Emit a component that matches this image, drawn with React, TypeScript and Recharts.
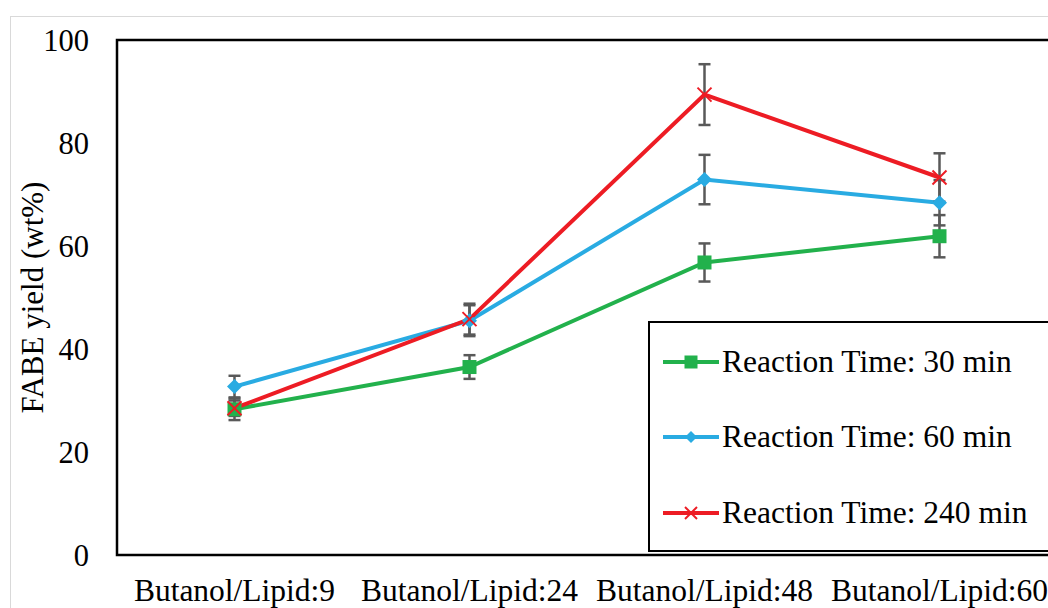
import React from "react";
import {
  LineChart,
  Line,
  XAxis,
  YAxis,
  ErrorBar,
  Legend,
  ReferenceArea,
} from "recharts";

const categories = [
  "Butanol/Lipid:9",
  "Butanol/Lipid:24",
  "Butanol/Lipid:48",
  "Butanol/Lipid:60",
];

const yield30 = [28.3, 36.5, 56.8, 61.9];
const yield60 = [32.7, 45.5, 72.9, 68.4];
const yield240 = [28.5, 45.8, 89.4, 73.3];

const err30 = [2.1, 2.3, 3.7, 4.1];
const err60 = [2.1, 3.0, 4.8, 4.4];
const err240 = [1.5, 3.0, 5.9, 4.7];

const yTicks = [0, 20, 40, 60, 80, 100];

const GREEN = "#22B14C";
const BLUE = "#29ABE2";
const RED = "#ED1C24";
const FONT = "Liberation Serif, Times New Roman, serif";

const data = categories.map((name, i) => ({
  name,
  t30: yield30[i],
  t60: yield60[i],
  t240: yield240[i],
  e30: err30[i],
  e60: err60[i],
  e240: err240[i],
}));

type DotProps = { cx?: number; cy?: number; index?: number };

function SquareMark({ cx = 0, cy = 0, size = 14 }: DotProps & { size?: number }) {
  return <rect x={cx - size / 2} y={cy - size / 2} width={size} height={size} fill={GREEN} />;
}

function DiamondMark({ cx = 0, cy = 0, size = 7.5 }: DotProps & { size?: number }) {
  const pts = `${cx},${cy - size} ${cx + size},${cy} ${cx},${cy + size} ${cx - size},${cy}`;
  return <polygon points={pts} fill={BLUE} />;
}

function CrossMark({ cx = 0, cy = 0, size = 7 }: DotProps & { size?: number }) {
  return (
    <g stroke={RED} strokeWidth={2}>
      <line x1={cx - size} y1={cy - size} x2={cx + size} y2={cy + size} />
      <line x1={cx - size} y1={cy + size} x2={cx + size} y2={cy - size} />
    </g>
  );
}

const legendItems = [
  { key: "t30", color: GREEN, Mark: SquareMark, markSize: 13 },
  { key: "t60", color: BLUE, Mark: DiamondMark, markSize: 6 },
  { key: "t240", color: RED, Mark: CrossMark, markSize: 6 },
];

function BoxLegend({ payload }: { payload?: any[] }) {
  const entries = payload ?? [];
  return (
    <div
      style={{
        boxSizing: "border-box",
        width: 420,
        height: 231,
        border: "2px solid #000",
        background: "#fff",
        paddingTop: 1,
        fontFamily: FONT,
      }}
    >
      {legendItems.map((item) => {
        const entry = entries.find((e) => e.dataKey === item.key);
        if (!entry) return null;
        const { Mark } = item;
        return (
          <div
            key={item.key}
            style={{ height: 75.5, display: "flex", alignItems: "center" }}
          >
            <svg width={56} height={20} style={{ marginLeft: 13 }}>
              <line x1={0} y1={10} x2={56} y2={10} stroke={item.color} strokeWidth={4} />
              <Mark cx={28} cy={10} size={item.markSize} />
            </svg>
            <span style={{ marginLeft: 3, fontSize: 31.5, color: "#000", whiteSpace: "nowrap" }}>
              {entry.value}
            </span>
          </div>
        );
      })}
    </div>
  );
}

function YTitle({ viewBox }: any) {
  const cy = viewBox.y + viewBox.height / 2;
  const x = viewBox.x + 6;
  return (
    <text
      x={x}
      y={cy}
      transform={`rotate(-90, ${x}, ${cy})`}
      textAnchor="middle"
      fontFamily={FONT}
      fontSize={31}
      fill="#000"
    >
      FABE yield (wt%)
    </text>
  );
}

function XTick({ x, y, payload }: any) {
  return (
    <text x={x} y={y} dy="0.71em" textAnchor="middle" fill="#000" fontFamily={FONT} fontSize={31.5}>
      {payload.value}
    </text>
  );
}

function YTick({ x, y, payload }: any) {
  return (
    <text x={x} y={y} dy="0.355em" textAnchor="end" fill="#000" fontFamily={FONT} fontSize={30.5}>
      {payload.value}
    </text>
  );
}

export default function App() {
  return (
    <div
      style={{
        position: "absolute",
        left: 0,
        top: 0,
        width: 1048,
        height: 608,
        overflow: "hidden",
        background: "#fff",
        fontFamily: FONT,
      }}
    >
      <div
        style={{
          position: "absolute",
          left: 10,
          top: 16,
          width: 1200,
          height: 800,
          border: "1px solid #d9d9d9",
        }}
      />
      <div style={{ position: "absolute", left: 0, top: 0 }}>
        <LineChart
          width={1078}
          height={608}
          data={data}
          margin={{ top: 40, right: 21, bottom: 0, left: 37 }}
        >
          <ReferenceArea
            y1={0}
            y2={100}
            fill="none"
            stroke="#000"
            strokeWidth={2.5}
            fillOpacity={0}
            ifOverflow="visible"
          />
          <XAxis
            dataKey="name"
            scale="band"
            height={53}
            axisLine={false}
            tickLine={false}
            tickSize={0}
            tickMargin={24}
            interval={0}
            tick={<XTick />}
          />
          <YAxis
            width={80}
            domain={[0, 100]}
            ticks={yTicks}
            axisLine={false}
            tickLine={false}
            tickSize={0}
            tickMargin={28}
            tick={<YTick />}
            label={<YTitle />}
          />
          <Legend
            layout="vertical"
            align="center"
            verticalAlign="middle"
            wrapperStyle={{ left: 648, top: 321, width: 420, height: 231 }}
            content={<BoxLegend />}
          />
          <Line
            dataKey="t30"
            name="Reaction Time: 30 min"
            stroke={GREEN}
            strokeWidth={4}
            isAnimationActive={false}
            activeDot={false}
            dot={(p: any) => <SquareMark key={`g${p.index}`} cx={p.cx} cy={p.cy} />}
          >
            <ErrorBar dataKey="e30" width={6} stroke="#595959" strokeWidth={2.5} direction="y" />
          </Line>
          <Line
            dataKey="t60"
            name="Reaction Time: 60 min"
            stroke={BLUE}
            strokeWidth={4}
            isAnimationActive={false}
            activeDot={false}
            dot={(p: any) => <DiamondMark key={`b${p.index}`} cx={p.cx} cy={p.cy} />}
          >
            <ErrorBar dataKey="e60" width={6} stroke="#595959" strokeWidth={2.5} direction="y" />
          </Line>
          <Line
            dataKey="t240"
            name="Reaction Time: 240 min"
            stroke={RED}
            strokeWidth={4}
            isAnimationActive={false}
            activeDot={false}
            dot={(p: any) => <CrossMark key={`r${p.index}`} cx={p.cx} cy={p.cy} />}
          >
            <ErrorBar dataKey="e240" width={6} stroke="#595959" strokeWidth={2.5} direction="y" />
          </Line>
        </LineChart>
      </div>
    </div>
  );
}
